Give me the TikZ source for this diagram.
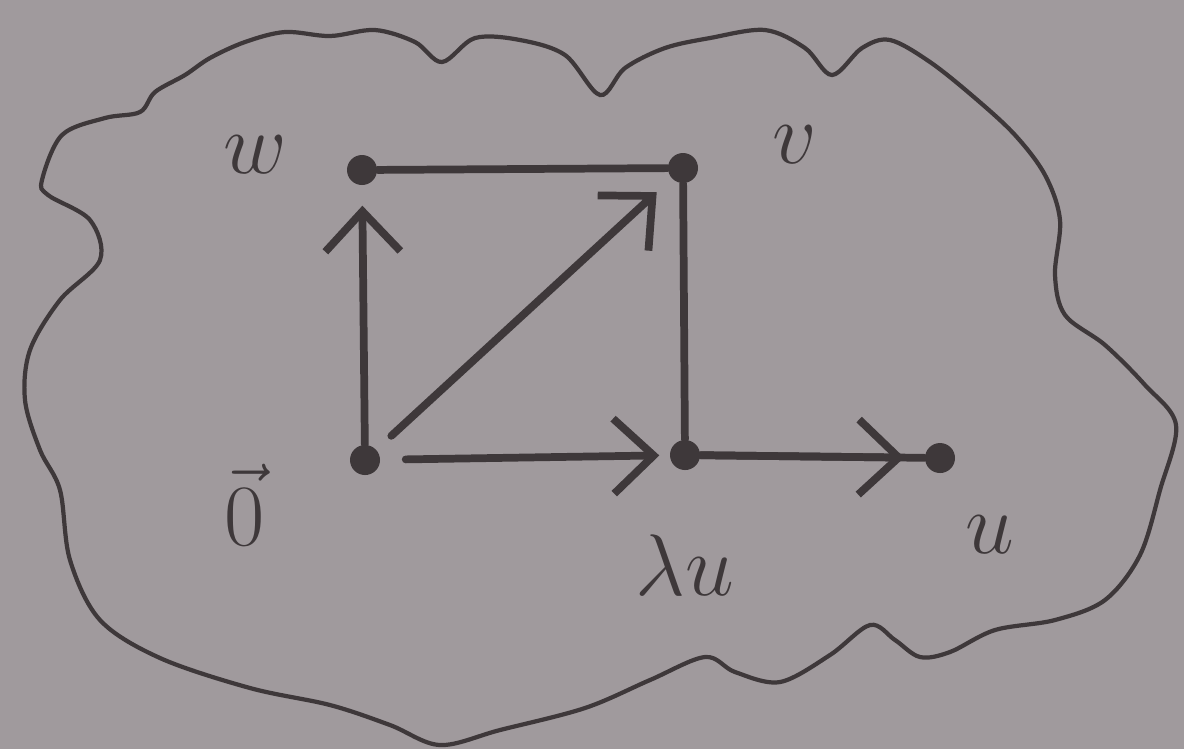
\documentclass[tikz,border=0pt]{standalone}
\usetikzlibrary{arrows.meta}

\definecolor{paper}{RGB}{160,154,157}
\definecolor{pencil}{RGB}{62,56,58}

\tikzset{
    pt/.style={circle, fill=pencil, inner sep=0pt, minimum size=0.3cm},
    lbl/.style={text=pencil, font=\fontsize{30}{36}\selectfont},
    vec/.style={draw=pencil, line width=2.2pt, line cap=round, shorten >=0.2cm,
        -{Straight Barb[length=4mm, width=7.5mm, line width=2.2pt]}},
    seg/.style={draw=pencil, line width=2.2pt, line cap=round}
}

\begin{document}
\begin{tikzpicture}
        \fill[paper] (0,0) rectangle (11.84,-7.49);
        \useasboundingbox (0,0) rectangle (11.84,-7.49);

        % cloud
        \draw[pencil, line width=1.2pt] plot[smooth cycle, tension=0.55] coordinates {
            (0.42,-1.80) (0.62,-1.35) (1.05,-1.18) (1.40,-1.12) (1.55,-0.92)
            (1.85,-0.75) (2.10,-0.58) (2.45,-0.42) (2.85,-0.32) (3.30,-0.36)
            (3.75,-0.30) (4.15,-0.42) (4.42,-0.62) (4.75,-0.38) (5.20,-0.40)
            (5.65,-0.55) (6.00,-0.95) (6.25,-0.68) (6.65,-0.48) (7.10,-0.38)
            (7.65,-0.30) (8.05,-0.48) (8.32,-0.75) (8.62,-0.48) (8.90,-0.40)
            (9.30,-0.62) (9.75,-0.98) (10.15,-1.35) (10.45,-1.75) (10.60,-2.20)
            (10.55,-2.75) (10.65,-3.15) (11.05,-3.45) (11.45,-3.85) (11.76,-4.25)
            (11.60,-4.90) (11.40,-5.55) (11.05,-6.00) (10.55,-6.20) (9.95,-6.30)
            (9.50,-6.52) (9.20,-6.57) (8.95,-6.40) (8.70,-6.25) (8.30,-6.55)
            (7.80,-6.82) (7.35,-6.72) (7.05,-6.57) (6.50,-6.80) (5.85,-7.08)
            (5.00,-7.30) (4.40,-7.45) (3.90,-7.25) (3.30,-7.05) (2.50,-6.88)
            (1.60,-6.58) (1.00,-6.20) (0.70,-5.60) (0.60,-4.90) (0.40,-4.50)
            (0.25,-4.00) (0.30,-3.50) (0.60,-3.00) (1.00,-2.60) (0.90,-2.20)
            (0.48,-1.95)};

        % points
        \node[pt] (O) at (3.65,-4.60) {};
        \node[pt] (W) at (3.62,-1.70) {};
        \node[pt] (V) at (6.83,-1.68) {};
        \node[pt] (LU) at (6.85,-4.55) {};
        \node[pt] (U) at (9.40,-4.58) {};

        % labels
        \node[lbl] (Wl) at (2.55,-1.55) {$w$};
        \node[lbl] (Vl) at (7.95,-1.45) {$v$};
        \node[lbl] (Ol) at (2.45,-5.05) {$\vec{0}$};
        \node[lbl] (LUl) at (6.85,-5.65) {$\lambda u$};
        \node[lbl] (Ul) at (9.90,-5.35) {$u$};

        % edges
        \draw[seg] (W) -- (V);
        \draw[seg] (V) -- (LU);
        \draw[seg] (LU) -- (U);
        \draw[vec] (O) -- (W);
        \draw[vec, shorten <=0.2cm] (O) -- (V);
        \draw[vec, shorten <=0.25cm, shorten >=0.1cm] (O) -- (LU);
        \draw[vec] (LU) -- (U);
    \end{tikzpicture}
\end{document}
